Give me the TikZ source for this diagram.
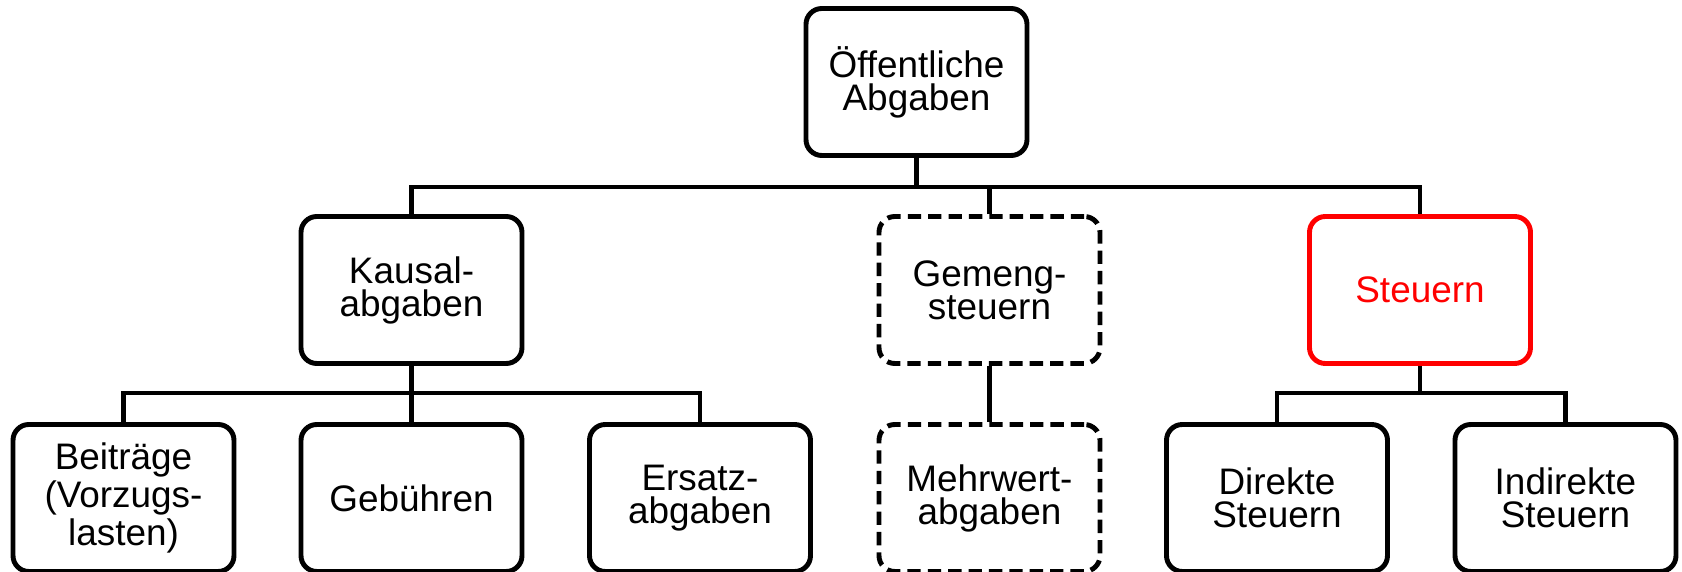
\documentclass[tikz,border=0pt]{standalone}
\usepackage{fontspec}
\setmainfont{Liberation Sans}

\tikzset{
  box/.style={draw, line width=1.4pt, rounded corners=4.5pt,
    minimum width=2.21cm, minimum height=1.47cm, inner sep=0pt,
    align=center, font=\fontsize{10.5}{9.4}\selectfont},
  dashbox/.style={box, dash pattern=on 3.8pt off 2pt},
  redbox/.style={box, draw=red, text=red},
  link/.style={line width=1.4pt},
}

\begin{document}
\begin{tikzpicture}

\useasboundingbox (0,0) rectangle (16.82,-5.72);

%BUS LINES
\coordinate (busA) at (0,-1.87);
\coordinate (busB) at (0,-3.93);

%TOP
\node[box] (oa) at (9.165,-0.82) {Öffentliche\\Abgaben};

%MIDDLE ROW
\node[box] (kausal) at (4.115,-2.90) {Kausal-\\abgaben};
\node[dashbox] (gemeng) at (9.895,-2.90) {Gemeng-\\steuern};
\node[redbox] (steuern) at (14.2,-2.90) {Steuern};

%BOTTOM ROW
\node[box] (beitr) at (1.235,-4.98) {Beiträge\\(Vorzugs-\\lasten)};
\node[box] (gebuehr) at (4.115,-4.98) {Gebühren};
\node[box] (ersatz) at (7.0,-4.98) {Ersatz-\\abgaben};
\node[dashbox] (mehrwert) at (9.895,-4.98) {Mehrwert-\\abgaben};
\node[box] (direkt) at (12.77,-4.98) {Direkte\\Steuern};
\node[box] (indirekt) at (15.655,-4.98) {Indirekte\\Steuern};

%CONNECTORS
% first level
\draw[link] (oa.south) -- (oa.south |- busA);
\draw[link] (kausal.north) |- (steuern.north |- busA) -- (steuern.north);
\draw[link] (gemeng.north) -- (gemeng.north |- busA);
% second level
\draw[link] (kausal.south) -- (gebuehr.north);
\draw[link] (beitr.north) |- (ersatz.north |- busB) -- (ersatz.north);
\draw[link] (gemeng.south) -- (mehrwert.north);
\draw[link] (steuern.south) -- (steuern.south |- busB);
\draw[link] (direkt.north) |- (indirekt.north |- busB) -- (indirekt.north);

\end{tikzpicture}
\end{document}
